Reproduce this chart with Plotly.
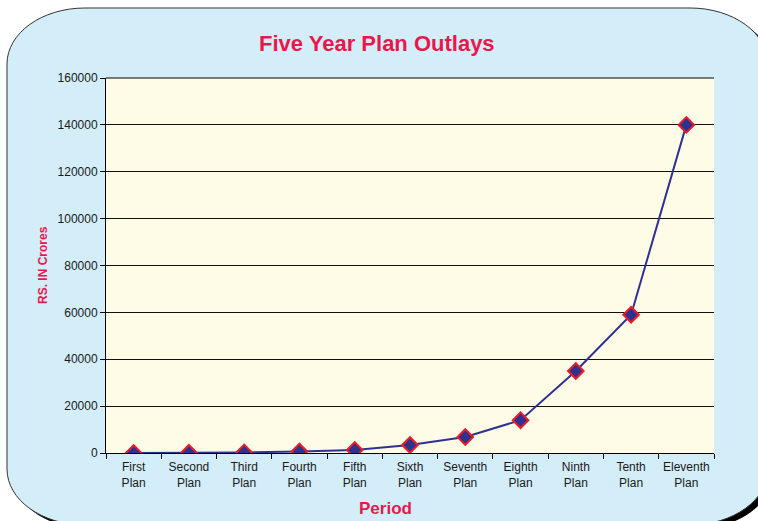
import plotly.graph_objects as go

# ---- data ----
periods = ["First<br>Plan", "Second<br>Plan", "Third<br>Plan", "Fourth<br>Plan", "Fifth<br>Plan",
           "Sixth<br>Plan", "Seventh<br>Plan", "Eighth<br>Plan", "Ninth<br>Plan", "Tenth<br>Plan",
           "Eleventh<br>Plan"]
outlays = [50, 100, 250, 650, 1300, 3400, 6800, 14000, 35000, 59000, 140000]
y_ticks = [0, 20000, 40000, 60000, 80000, 100000, 120000, 140000, 160000]

# ---- geometry (pixels) ----
W, H = 758, 521
PL, PR, PT, PB = 106, 714, 78, 453


def px(x):
    return (x - PL) / (PR - PL)


def py(y):
    return (PB - y) / (PB - PT)


def rrect(x0, y0, x1, y1, rx, ry):
    k = 0.5523
    def P(x, y):
        return f"{px(x):.5f},{py(y):.5f}"
    d = f"M {P(x0 + rx, y0)} L {P(x1 - rx, y0)} "
    d += f"C {P(x1 - rx + k*rx, y0)} {P(x1, y0 + ry - k*ry)} {P(x1, y0 + ry)} "
    d += f"L {P(x1, y1 - ry)} "
    d += f"C {P(x1, y1 - ry + k*ry)} {P(x1 - rx + k*rx, y1)} {P(x1 - rx, y1)} "
    d += f"L {P(x0 + rx, y1)} "
    d += f"C {P(x0 + rx - k*rx, y1)} {P(x0, y1 - ry + k*ry)} {P(x0, y1 - ry)} "
    d += f"L {P(x0, y0 + ry)} "
    d += f"C {P(x0, y0 + ry - k*ry)} {P(x0 + rx - k*rx, y0)} {P(x0 + rx, y0)} Z"
    return d


BLUE_BG = "#d3edf9"
CREAM = "#fefce6"
PINK = "#e8184d"
LINE = "#2e3192"
RED = "#ed1c24"

fig = go.Figure()
fig.add_trace(go.Scatter(
    x=periods, y=outlays, mode="lines+markers",
    line=dict(color=LINE, width=2),
    marker=dict(symbol="diamond", size=12, color=LINE, line=dict(color=RED, width=2)),
    hoverinfo="x+y", showlegend=False,
))

shapes = [
    dict(type="path", xref="paper", yref="paper", layer="below",
         path=rrect(12, 12, 773, 529, 78, 56), fillcolor="#000000", line=dict(width=0)),
    dict(type="path", xref="paper", yref="paper", layer="below",
         path=rrect(7, 8, 768, 525, 78, 56), fillcolor=BLUE_BG, line=dict(color="#333333", width=1)),
    dict(type="rect", xref="paper", yref="paper", layer="below",
         x0=0, y0=0, x1=1, y1=1, fillcolor=CREAM, line=dict(width=0)),
    dict(type="line", xref="paper", yref="paper", layer="above",
         x0=0, y0=1, x1=1, y1=1, line=dict(color="#000000", width=1)),
]

annotations = [
    dict(text="<b>Five Year Plan Outlays</b>", xref="paper", yref="paper",
         x=px(377), y=py(43), showarrow=False, xanchor="center", yanchor="middle",
         font=dict(family="Liberation Sans, Arial", size=22, color=PINK)),
    dict(text="<b>Period</b>", xref="paper", yref="paper",
         x=px(385), y=py(508), showarrow=False, xanchor="center", yanchor="middle",
         font=dict(family="Liberation Sans, Arial", size=17, color=PINK)),
    dict(text="<b>RS. IN Crores</b>", xref="paper", yref="paper",
         x=px(43), y=py(265), showarrow=False, xanchor="center", yanchor="middle",
         textangle=-90,
         font=dict(family="Liberation Sans, Arial", size=12, color=PINK)),
]

fig.update_layout(
    width=W, height=H,
    margin=dict(l=PL, r=W - PR, t=PT, b=H - PB, pad=0),
    paper_bgcolor="#ffffff",
    plot_bgcolor="rgba(0,0,0,0)",
    font=dict(family="Liberation Sans, Arial", size=12, color="#1a1a1a"),
    shapes=shapes,
    annotations=annotations,
    xaxis=dict(
        type="category", range=[-0.5, len(periods) - 0.5],
        showgrid=False, showline=True, linecolor="#000000", linewidth=1,
        ticks="outside", tickson="boundaries", ticklen=5, tickcolor="#000000",
        tickangle=0, ticklabelstandoff=3,
        tickfont=dict(size=12, color="#1a1a1a"), fixedrange=True,
    ),
    yaxis=dict(
        range=[0, 160000], tickvals=y_ticks, ticktext=[str(v) for v in y_ticks],
        showgrid=True, gridcolor="#111111", gridwidth=1,
        showline=True, linecolor="#000000", linewidth=1, zeroline=False,
        ticks="outside", ticklen=5, tickcolor="#000000",
        tickfont=dict(size=12, color="#1a1a1a"), fixedrange=True,
    ),
)

fig.write_html("out.html", config={"displayModeBar": False},
               post_script="document.body.style.margin='0';document.body.style.overflow='hidden';")
